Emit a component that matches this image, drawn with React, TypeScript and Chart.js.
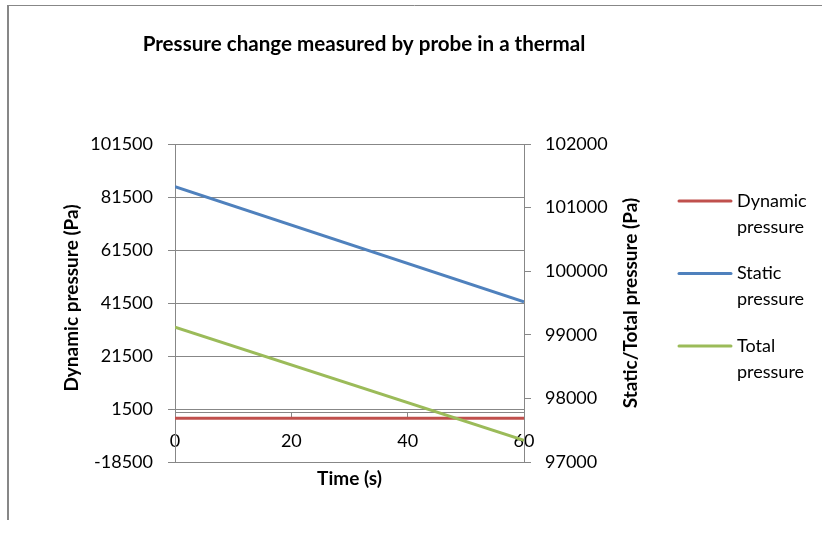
import React, { useEffect, useRef } from "react";
import { Chart, registerables } from "chart.js";

Chart.register(...registerables);

const timeValues = [0, 60];
const dynamicPressure = [-2000, -2000];
const staticPressure = [101330, 99520];
const totalPressure = [99120, 97340];
const leftTicks = [-18500, 1500, 21500, 41500, 61500, 81500, 101500];
const rightTicks = [97000, 98000, 99000, 100000, 101000, 102000];
const xTicks = [0, 20, 40, 60];
const seriesLabels = ["Dynamic pressure", "Static pressure", "Total pressure"];
const seriesColors = ["#C0504D", "#4F81BD", "#9BBB59"];
const titleText = "Pressure change measured by probe in a thermal";
const xTitle = "Time (s)";
const leftTitle = "Dynamic pressure (Pa)";
const rightTitle = "Static/Total pressure (Pa)";

const FONT = "Lato, 'Noto Sans', sans-serif";
const GRID = "#878787";
const TEXT = "#000000";

const decor = {
  id: "decor",
  beforeDraw(chart: any) {
    const ctx = chart.ctx;
    ctx.save();
    ctx.fillStyle = "#ffffff";
    ctx.fillRect(0, 0, chart.width, chart.height);
    ctx.strokeStyle = GRID;
    ctx.lineWidth = 1;
    ctx.beginPath();
    ctx.moveTo(7, 5.5);
    ctx.lineTo(822, 5.5);
    ctx.stroke();
    ctx.lineWidth = 2;
    ctx.beginPath();
    ctx.moveTo(8, 5);
    ctx.lineTo(8, 520);
    ctx.stroke();
    ctx.restore();
  },
  afterDraw(chart: any) {
    const ctx = chart.ctx;
    const area = chart.chartArea;
    const cy = (area.top + area.bottom) / 2;
    ctx.save();
    ctx.fillStyle = TEXT;
    ctx.textAlign = "center";
    ctx.textBaseline = "alphabetic";
    ctx.font = `bold 20.6px ${FONT}`;
    ctx.fillText(titleText, 364, 51);

    ctx.font = `bold 19px ${FONT}`;
    ctx.fillText(xTitle, (area.left + area.right) / 2, 485);

    ctx.save();
    ctx.translate(78, cy - 5);
    ctx.rotate(-Math.PI / 2);
    ctx.fillText(leftTitle, 0, 0);
    ctx.restore();

    ctx.save();
    ctx.translate(637, cy);
    ctx.rotate(-Math.PI / 2);
    ctx.fillText(rightTitle, 0, 0);
    ctx.restore();

    // legend
    ctx.font = `18px ${FONT}`;
    ctx.textAlign = "left";
    ctx.textBaseline = "middle";
    chart.data.datasets.forEach((ds: any, i: number) => {
      const y0 = 201 + i * 72.5;
      ctx.strokeStyle = ds.borderColor;
      ctx.lineWidth = 3;
      ctx.lineCap = "round";
      ctx.beginPath();
      ctx.moveTo(679, y0);
      ctx.lineTo(731, y0);
      ctx.stroke();
      const words = String(ds.label).split(" ");
      ctx.fillStyle = TEXT;
      ctx.fillText(words[0], 737, y0);
      ctx.fillText(words.slice(1).join(" "), 737, y0 + 26);
    });
    ctx.restore();
  },
};

const tickFont = { family: FONT, size: 18 };

export default function App() {
  const ref = useRef<HTMLCanvasElement | null>(null);
  useEffect(() => {
    if (!ref.current) return;
    const toPts = (vals: number[]) => timeValues.map((t, i) => ({ x: t, y: vals[i] }));
    const chart = new Chart(ref.current, {
      type: "line",
      data: {
        datasets: [
          { label: seriesLabels[0], data: toPts(dynamicPressure), yAxisID: "y", borderColor: seriesColors[0], backgroundColor: seriesColors[0], borderWidth: 3, pointRadius: 0, order: 2 },
          { label: seriesLabels[1], data: toPts(staticPressure), yAxisID: "y1", borderColor: seriesColors[1], backgroundColor: seriesColors[1], borderWidth: 3, pointRadius: 0, order: 1 },
          { label: seriesLabels[2], data: toPts(totalPressure), yAxisID: "y1", borderColor: seriesColors[2], backgroundColor: seriesColors[2], borderWidth: 3, pointRadius: 0, order: 0 },
        ],
      },
      options: {
        responsive: false,
        animation: false,
        layout: { padding: { left: 0, right: 203, top: 144, bottom: 71 } },
        plugins: { legend: { display: false }, title: { display: false }, tooltip: { enabled: false } },
        scales: {
          x: {
            type: "linear",
            min: 0,
            max: 60,
            position: { y: 0 } as any,
            afterBuildTicks: (s: any) => { s.ticks = xTicks.map((v) => ({ value: v })); },
            grid: { drawOnChartArea: false, tickLength: 4, color: GRID },
            border: { color: GRID, width: 1 },
            ticks: { font: tickFont, color: TEXT, padding: 13, maxRotation: 0, autoSkip: false },
          },
          y: {
            type: "linear",
            position: "left",
            min: leftTicks[0],
            max: leftTicks[leftTicks.length - 1],
            afterBuildTicks: (s: any) => { s.ticks = leftTicks.map((v) => ({ value: v })); },
            afterFit: (s: any) => { s.width = 175; },
            grid: { color: GRID, tickLength: 7 },
            border: { color: GRID, width: 1 },
            ticks: { font: tickFont, color: TEXT, padding: 15, callback: (v: any) => String(v) },
          },
          y1: {
            type: "linear",
            position: "right",
            min: rightTicks[0],
            max: rightTicks[rightTicks.length - 1],
            afterBuildTicks: (s: any) => { s.ticks = rightTicks.map((v) => ({ value: v })); },
            afterFit: (s: any) => { s.width = 100; },
            grid: { drawOnChartArea: false, tickLength: 7, color: GRID },
            border: { color: GRID, width: 1 },
            ticks: { font: tickFont, color: TEXT, padding: 14, callback: (v: any) => String(v) },
          },
        },
      },
      plugins: [decor],
    });
    return () => chart.destroy();
  }, []);
  return (
    <div style={{ position: "absolute", left: 0, top: 0, width: 827, height: 533 }}>
      <canvas ref={ref} width={827} height={533} style={{ display: "block" }} />
    </div>
  );
}
